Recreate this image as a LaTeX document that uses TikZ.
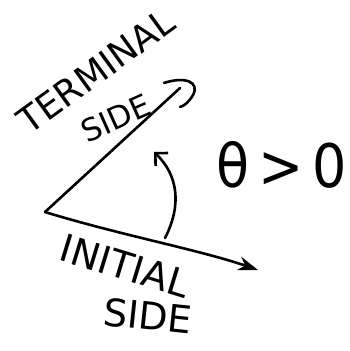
\documentclass[tikz,border=0pt]{standalone}
\usepackage{fontspec}
\setmainfont{DejaVu Sans}
\usetikzlibrary{arrows.meta}
\begin{document}
\begin{tikzpicture}[x=1pt,y=-1pt,
  ray/.style={line width=2.6pt,line cap=round,line join=round},
  lbl/.style={inner sep=0pt,font=\fontsize{38}{40}\selectfont}]
\useasboundingbox (0,0) rectangle (349,351);
\coordinate (V) at (45,212);
\coordinate (T) at (180,88);
\coordinate (I) at (258,270);
\coordinate (A0) at (165,238);
\coordinate (A1) at (154,152);
% terminal side with hand-drawn hook head
\draw[ray] (V) -- (T);
\draw[ray] (164,83) .. controls (185,76) and (200,82) .. (193,95) .. controls (189,102) and (184,106) .. (180,107);
% initial side
\draw[ray,-{Stealth[length=20pt,width=14pt]}] (V) .. controls (120,235) and (200,250) .. (I);
% angle arrow
\draw[ray,-{Straight Barb[length=9pt,width=18pt]}] (A0) .. controls (182,205) and (178,175) .. (A1);
% labels
\node[lbl,rotate=36,font=\fontsize{36}{38}\selectfont] (term) at (96,71) {TERMINAL};
\node[lbl,rotate=24,font=\fontsize{31}{33}\selectfont] (side1) at (116,118) {SIDE};
\node[lbl,xscale=0.9,font=\fontsize{60}{62}\selectfont] (theta) at (282,165) {θ\,>\,0};
\node[lbl,rotate=-17,font=\fontsize{38}{40}\selectfont] (init) at (125,266) {INITIAL};
\node[lbl,rotate=-6,font=\fontsize{38}{40}\selectfont] (side2) at (148,316) {SIDE};
\end{tikzpicture}
\end{document}
